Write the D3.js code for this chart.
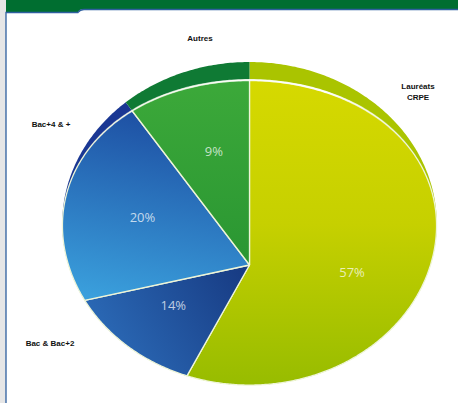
<!DOCTYPE html>
<html><head><meta charset="utf-8">
<script src="https://cdn.jsdelivr.net/npm/d3@7"></script>
<style>html,body{margin:0;padding:0;background:#fff;overflow:hidden}</style>
</head><body>
<svg id="c" width="458" height="403"></svg>
<script>
// ---- data ----
const categories = ["Lauréats CRPE", "Bac & Bac+2", "Bac+4 & +", "Autres"];
const values = [57, 14, 20, 9];
const pctLabels = ["57%", "14%", "20%", "9%"];

// ---- styles ----
const fills = [
  [["0", "#d8da00"], ["0.5", "#c6d000"], ["1", "#97bc00"]],
  [["0", "#173a82"], ["1", "#2d6fbc"]],
  [["0", "#1d4ea2"], ["1", "#3a9fdc"]],
  [["0", "#3daa3a"], ["1", "#2a9632"]]
];
const rims = ["#aac400", "#1b3a8c", "#1a3793", "#0f7a34"];

const svg = d3.select("#c");
const defs = svg.append("defs");

// header / frame
svg.append("rect").attr("x", 0).attr("y", 0).attr("width", 6).attr("height", 403).attr("fill", "#e6e6e6");
svg.append("path").attr("d", "M6,0 H458 V9 H84 Q80,9 78,12 H6 Z").attr("fill", "#006e30");
svg.append("path").attr("d", "M6,403 V12.5 H78 Q80,9.5 84,9.5 H458").attr("fill", "none").attr("stroke", "#2f5f9f").attr("stroke-width", 1.3);

// perspective disc projection
const cx = 249.5, cy = 265, A = 181, B = 150.9, K = 0.2566;
function proj(x, y) { const d = 1 + K * y; return [cx + A * x / d, cy + B * y / d]; }
function polar(theta, r) { return proj(r * Math.sin(theta), -r * Math.cos(theta)); }
function innerR(theta) { const c = Math.max(0, Math.cos(theta)); return 1 - 0.068 * c * c * c; }

const pie = d3.pie().sort(null).value(d => d);
const arcs = pie(values);
const line = d3.line();

function slicePath(a, rf) {
  const pts = [proj(0, 0)];
  const n = Math.max(8, Math.ceil((a.endAngle - a.startAngle) / 0.01));
  for (let i = 0; i <= n; i++) {
    const t = a.startAngle + (a.endAngle - a.startAngle) * i / n;
    pts.push(polar(t, rf(t)));
  }
  return line(pts) + "Z";
}

// gradients
const gdirs = [
  { x1: 0, y1: 62, x2: 0, y2: 386 },
  { x1: 245, y1: 265, x2: 90, y2: 360 },
  { x1: 150, y1: 110, x2: 110, y2: 300 },
  { x1: 0, y1: 70, x2: 0, y2: 265 }
];
fills.forEach((stops, i) => {
  const g = defs.append("linearGradient").attr("id", "g" + i).attr("gradientUnits", "userSpaceOnUse")
    .attr("x1", gdirs[i].x1).attr("y1", gdirs[i].y1).attr("x2", gdirs[i].x2).attr("y2", gdirs[i].y2);
  stops.forEach(s => g.append("stop").attr("offset", s[0]).attr("stop-color", s[1]));
});
const hl = defs.append("linearGradient").attr("id", "hl").attr("gradientUnits", "userSpaceOnUse")
  .attr("x1", 80).attr("y1", 0).attr("x2", 430).attr("y2", 0);
[["0", 0], ["0.2", 0.55], ["0.45", 0.8], ["0.7", 0.95], ["0.95", 0]].forEach(s =>
  hl.append("stop").attr("offset", s[0]).attr("stop-color", "#fff").attr("stop-opacity", s[1]));

// rims (full slice)
svg.append("g").selectAll("path").data(arcs).join("path")
  .attr("d", a => slicePath(a, () => 1))
  .attr("fill", (a, i) => rims[i]);

// main faces
svg.append("g").selectAll("path").data(arcs).join("path")
  .attr("d", a => slicePath(a, innerR))
  .attr("fill", (a, i) => `url(#g${i})`)
  .attr("stroke", "#eef5d8").attr("stroke-width", 1.3).attr("stroke-linejoin", "round");

// highlight line along inner boundary
const hpts = d3.range(-1.2, 1.2001, 0.01).map(t => polar(t, innerR(t)));
svg.append("path").attr("d", line(hpts)).attr("fill", "none")
  .attr("stroke", "url(#hl)").attr("stroke-width", 2.2);

// percent labels
svg.append("g").selectAll("text").data(arcs).join("text")
  .attr("transform", a => { const m = (a.startAngle + a.endAngle) / 2; const p = polar(m, 0.6); return `translate(${p[0]},${p[1] - 12})`; })
  .attr("text-anchor", "middle").attr("dy", "0.35em")
  .attr("font-family", "Open Sans, sans-serif").attr("font-size", 13)
  .attr("fill", "#ffffff").attr("fill-opacity", 0.72)
  .text((a, i) => pctLabels[i]);

// category labels
const catPos = [
  { x: 418, y: 86, lines: categories[0].split(" ") },
  { x: 50, y: 343, lines: [categories[1]] },
  { x: 51, y: 124, lines: [categories[2]] },
  { x: 200, y: 38, lines: [categories[3]] }
];
const cg = svg.append("g").attr("font-family", "Arial, Liberation Sans, sans-serif")
  .attr("font-size", 8).attr("font-weight", "bold").attr("fill", "#111").attr("text-anchor", "middle");
catPos.forEach(p => {
  const t = cg.append("text").attr("x", p.x).attr("y", p.y).attr("dy", "0.35em");
  p.lines.forEach((l, j) => t.append("tspan").attr("x", p.x).attr("dy", j === 0 ? "0.35em" : "1.4em").text(l));
});
</script>
</body></html>
